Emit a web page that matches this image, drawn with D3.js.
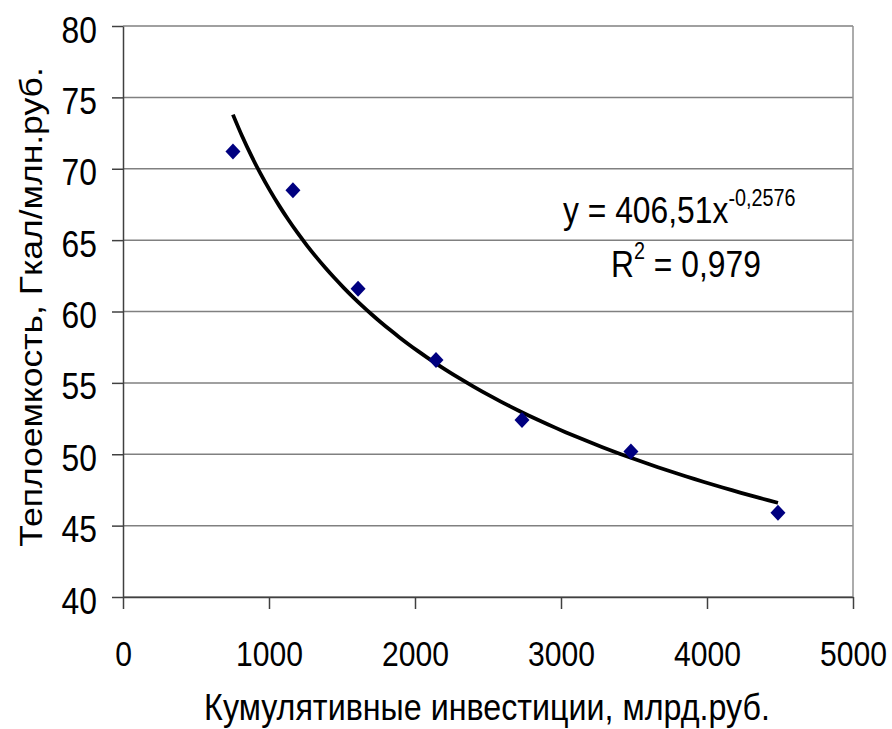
<!DOCTYPE html>
<html>
<head>
<meta charset="utf-8">
<script src="https://cdn.jsdelivr.net/npm/d3@7"></script>
<style>
    body { margin: 0; background: #fff; }
    text { font-family: "Liberation Sans", Arial, sans-serif; fill: #000; }
    .grid line { stroke: #808080; stroke-width: 1.5; }
    .axis path, .axis line { stroke: #404040; stroke-width: 1.5; }
</style>
</head>
<body>
<script>

// Data
var investments = [753, 1164, 1610, 2144, 2733, 3479, 4486];
var heatIntensity = [71.2, 68.5, 61.6, 56.6, 52.4, 50.2, 45.9];

var xTicks = [0, 1000, 2000, 3000, 4000, 5000];
var yTicks = [40, 45, 50, 55, 60, 65, 70, 75, 80];

// Power trendline shown on the chart: y = a * x^b
var trendA = 406.51;
var trendB = -0.2576;
var trendLabel = "y = 406,51x";
var trendExp = "-0,2576";
var r2Label = " = 0,979";

var xTitle = "Кумулятивные инвестиции, млрд.руб.";
var yTitle = "Теплоемкость, Гкал/млн.руб.";

var width = 892,
    height = 729,
    margin = { top: 26, right: 39, bottom: 132, left: 123 },
    w = width - margin.left - margin.right,
    h = height - margin.top - margin.bottom,
    squeeze = "scale(0.86,1)";   // the original picture is narrowed horizontally

var svg = d3.select("body").append("svg")
    .attr("width", width)
    .attr("height", height);

var g = svg.append("g")
    .attr("transform", "translate(" + margin.left + "," + margin.top + ")");

var x = d3.scaleLinear().domain([0, 5000]).range([0, w]);
var y = d3.scaleLinear().domain([40, 80]).range([h, 0]);

// horizontal gridlines
g.append("g")
    .attr("class", "grid")
    .selectAll("line")
    .data(yTicks)
    .enter().append("line")
    .attr("x1", 0)
    .attr("x2", w)
    .attr("y1", function(d) { return y(d); })
    .attr("y2", function(d) { return y(d); });

// right border of the plot area
g.append("line")
    .attr("x1", w).attr("x2", w)
    .attr("y1", 0).attr("y2", h)
    .attr("stroke", "#909090")
    .attr("stroke-width", 1.5);

// axes
var yAxis = g.append("g")
    .attr("class", "axis")
    .call(d3.axisLeft(y).tickValues(yTicks).tickSize(11).tickSizeOuter(0));

yAxis.selectAll("text")
    .attr("x", 0)
    .attr("dy", null)
    .attr("transform", "translate(-26,16) " + squeeze)
    .style("font-size", "37px")
    .style("font-family", "'Liberation Sans', Arial, sans-serif")
    .style("fill", "#000");

var xAxis = g.append("g")
    .attr("class", "axis")
    .attr("transform", "translate(0," + h + ")")
    .call(d3.axisBottom(x).tickValues(xTicks).tickFormat(d3.format("d")).tickSize(12).tickSizeOuter(0));

xAxis.selectAll("text")
    .attr("y", 0)
    .attr("dy", null)
    .attr("transform", "translate(0,69) " + squeeze)
    .style("font-size", "35px")
    .style("font-family", "'Liberation Sans', Arial, sans-serif")
    .style("fill", "#000");

// trendline from the first to the last data point
var xs = d3.range(60).map(function(i) {
    return d3.min(investments) + i * (d3.max(investments) - d3.min(investments)) / 59;
});

var line = d3.line()
    .x(function(d) { return x(d); })
    .y(function(d) { return y(trendA * Math.pow(d, trendB)); })
    .curve(d3.curveMonotoneX);

g.append("path")
    .datum(xs)
    .attr("fill", "none")
    .attr("stroke", "#000")
    .attr("stroke-width", 3.8)
    .attr("d", line);

// diamond markers
var pts = investments.map(function(v, i) { return [v, heatIntensity[i]]; });

g.selectAll(".pt")
    .data(pts)
    .enter().append("path")
    .attr("class", "pt")
    .attr("fill", "#000080")
    .attr("transform", function(d) { return "translate(" + x(d[0]) + "," + y(d[1]) + ")"; })
    .attr("d", "M0,-8L7.5,0L0,8L-7.5,0Z");

// equation labels
var eq = svg.append("text")
    .attr("transform", "translate(563,223) " + squeeze)
    .style("font-size", "37px");
eq.append("tspan").text(trendLabel);
eq.append("tspan").attr("dy", -17).style("font-size", "23px").text(trendExp);

var r2 = svg.append("text")
    .attr("transform", "translate(611,277) " + squeeze)
    .style("font-size", "37px");
r2.append("tspan").text("R");
r2.append("tspan").attr("dy", -18).style("font-size", "23px").text("2");
r2.append("tspan").attr("dy", 18).text(r2Label);

// axis titles
svg.append("text")
    .attr("transform", "translate(487,720) " + squeeze)
    .attr("text-anchor", "middle")
    .style("font-size", "37.5px")
    .text(xTitle);

svg.append("text")
    .attr("transform", "translate(42,307) " + squeeze + " rotate(-90)")
    .attr("text-anchor", "middle")
    .style("font-size", "35.5px")
    .text(yTitle);

</script>
</body>
</html>
